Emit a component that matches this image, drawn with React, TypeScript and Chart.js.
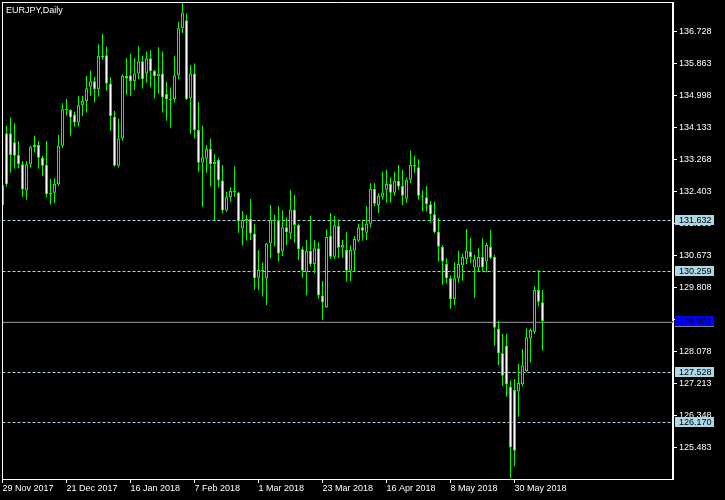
import React, { useEffect, useRef } from "react";
import { Chart, registerables } from "chart.js";

Chart.register(...registerables);

const symbolTitle = "EURJPY,Daily";

const opens = [
  132.04, 133.98, 133.98, 133.74, 133.39, 133.14, 132.43, 133.14, 133.61, 133.66,
  133.32, 133.12, 132.37, 132.37, 132.60, 133.64, 134.63, 134.61, 134.49, 134.27,
  134.74, 134.85, 135.24, 135.39, 135.17, 136.07, 136.09, 135.33, 134.43, 133.10,
  133.84, 135.53, 135.55, 135.39, 135.60, 135.93, 135.60, 136.01, 135.67, 135.53,
  135.60, 135.04, 134.90, 134.90, 135.55, 136.82, 137.04, 134.92, 135.60, 134.07,
  133.18, 133.30, 133.56, 133.14, 133.26, 132.70, 131.89, 132.25, 132.42, 132.38,
  131.41, 131.63, 131.67, 131.27, 130.07, 130.28, 130.06, 131.00, 131.63, 131.63,
  130.78, 131.44, 131.27, 131.92, 131.50, 130.84, 130.22, 130.80, 130.44, 130.87,
  129.59, 129.27, 131.21, 130.64, 131.47, 130.88, 130.82, 130.26, 130.80, 131.07,
  131.44, 131.29, 131.53, 132.47, 132.04, 132.26, 132.45, 132.61, 132.37, 132.69,
  132.55, 132.21, 132.72, 133.12, 133.06, 132.29, 132.25, 132.06, 131.79, 131.31,
  130.91, 130.44, 130.06, 129.49, 130.06, 130.40, 130.57, 130.78, 130.35, 130.35,
  130.63, 130.51, 130.91, 130.63, 128.70, 128.03, 128.23, 127.12, 127.03, 126.99,
  127.19, 127.55, 128.43, 128.61, 129.74, 129.41,
];
const highs = [
  132.63, 134.18, 134.41, 134.25, 133.77, 133.23, 133.23, 133.64, 133.91, 133.77,
  133.37, 133.77, 132.74, 132.76, 133.93, 134.79, 134.91, 134.63, 134.56, 134.99,
  134.99, 135.53, 135.67, 135.51, 136.39, 136.67, 136.32, 135.50, 134.58, 134.37,
  135.58, 136.01, 136.13, 136.01, 136.34, 136.07, 136.19, 136.23, 135.69, 136.31,
  136.19, 135.37, 135.22, 136.07, 136.99, 137.51, 137.23, 135.83, 135.87, 134.83,
  134.20, 133.66, 133.83, 133.42, 133.32, 133.12, 132.40, 132.52, 133.08, 132.40,
  131.88, 131.77, 132.20, 131.53, 130.82, 130.48, 131.02, 132.04, 131.77, 132.01,
  131.90, 131.71, 132.45, 132.31, 131.54, 130.91, 131.09, 131.74, 131.09, 131.03,
  129.98, 131.38, 131.82, 131.74, 131.65, 131.09, 131.31, 130.94, 131.20, 131.53,
  131.63, 132.01, 132.63, 132.63, 132.36, 132.94, 132.99, 132.79, 132.94, 133.12,
  132.99, 132.79, 133.51, 133.37, 133.28, 132.43, 132.55, 132.15, 132.13, 131.68,
  130.96, 130.60, 130.13, 130.49, 130.80, 130.71, 131.39, 131.15, 130.69, 130.87,
  131.14, 131.02, 131.36, 130.69, 128.91, 128.55, 128.55, 127.29, 127.33, 127.74,
  128.14, 128.70, 128.70, 129.85, 130.28, 129.74,
];
const lows = [
  131.98, 132.53, 132.91, 133.03, 133.03, 132.26, 132.18, 133.05, 133.46, 133.03,
  132.82, 132.25, 132.05, 132.09, 132.55, 133.59, 134.46, 133.91, 134.16, 134.16,
  134.45, 134.54, 134.99, 134.81, 134.97, 135.96, 135.13, 134.05, 133.08, 133.05,
  133.78, 135.02, 134.99, 135.15, 135.44, 135.19, 135.35, 135.22, 134.92, 135.05,
  134.54, 134.32, 134.13, 134.81, 135.44, 136.69, 134.88, 133.96, 133.84, 132.94,
  131.99, 132.91, 132.54, 131.62, 132.51, 131.82, 131.85, 132.13, 132.26, 131.29,
  130.94, 131.07, 131.09, 129.74, 129.74, 129.56, 129.33, 130.60, 130.91, 130.51,
  130.66, 130.96, 131.11, 131.02, 130.55, 130.07, 129.60, 130.37, 130.19, 129.50,
  128.93, 129.25, 130.58, 130.58, 130.61, 130.61, 129.96, 129.98, 130.24, 131.04,
  131.07, 131.09, 131.43, 132.01, 131.82, 132.18, 132.10, 132.10, 132.29, 132.45,
  132.04, 132.10, 132.63, 132.91, 132.18, 131.88, 131.86, 131.56, 131.27, 130.51,
  129.88, 129.92, 129.23, 129.33, 129.94, 129.99, 130.44, 130.46, 129.53, 130.24,
  130.24, 130.21, 130.57, 128.23, 127.71, 127.14, 126.85, 124.65, 124.96, 126.31,
  127.12, 127.53, 127.77, 128.55, 129.29, 128.10,
];
const closes = [
  132.58, 132.60, 133.39, 133.37, 133.14, 132.46, 133.14, 133.62, 133.66, 133.32,
  133.10, 132.34, 132.33, 132.61, 133.64, 134.63, 134.61, 134.41, 134.27, 134.74,
  134.85, 135.20, 135.39, 135.17, 136.07, 136.03, 135.33, 134.45, 133.10, 133.84,
  135.53, 135.46, 135.39, 135.60, 135.93, 135.44, 136.01, 135.66, 135.53, 135.60,
  134.95, 134.90, 134.88, 135.55, 136.82, 137.25, 134.90, 135.60, 134.07, 133.18,
  133.33, 133.56, 133.14, 133.20, 132.70, 131.89, 132.25, 132.42, 132.38, 131.59,
  131.63, 131.66, 131.27, 130.06, 130.28, 130.25, 131.00, 131.63, 131.62, 130.73,
  131.44, 131.30, 131.92, 131.50, 130.84, 130.26, 130.80, 130.44, 130.87, 129.59,
  129.41, 131.17, 130.64, 131.49, 130.88, 130.96, 130.26, 130.82, 131.12, 131.44,
  131.34, 131.53, 132.47, 132.07, 132.28, 132.38, 132.61, 132.37, 132.69, 132.54,
  132.29, 132.72, 133.12, 133.08, 132.29, 132.26, 132.06, 131.79, 131.31, 130.91,
  130.51, 130.06, 129.49, 130.06, 130.44, 130.63, 130.80, 130.63, 130.57, 130.63,
  130.35, 130.96, 130.61, 128.72, 128.03, 127.42, 127.19, 125.48, 125.39, 127.22,
  127.70, 128.46, 128.66, 129.74, 129.42, 128.90,
];

const xTickIndices = [0, 16, 32, 48, 64, 80, 96, 112, 128];
const xTickLabels = [
  "29 Nov 2017", "21 Dec 2017", "16 Jan 2018", "7 Feb 2018", "1 Mar 2018",
  "23 Mar 2018", "16 Apr 2018", "8 May 2018", "30 May 2018",
];
const yTickValues = [
  125.483, 126.348, 127.213, 128.078, 128.943, 129.808, 130.673,
  131.538, 132.403, 133.268, 134.133, 134.998, 135.863, 136.728,
];
const levelLines = [131.632, 130.259, 127.528, 126.17];
const currentPrice = 128.901;

const Y_MIN = 124.625;
const Y_MAX = 137.505;
const X_MIN = 0;
const X_MAX = 167.625;

const LIME = "#00ff00";
const WHITE = "#ffffff";
const BLACK = "#000000";
const LIGHT = "#add8e6";
const BLUE = "#0000ff";
const GRAY = "#808080";
const FONT = '"Liberation Sans", Arial, sans-serif';

const overlayPlugin = {
  id: "mtOverlay",
  beforeDraw(chart: any) {
    const { ctx, width, height } = chart;
    ctx.save();
    ctx.fillStyle = BLACK;
    ctx.fillRect(0, 0, width, height);
    ctx.restore();
  },
  beforeDatasetsDraw(chart: any) {
    const { ctx, chartArea: a, scales } = chart;
    const y = scales.y;
    ctx.save();
    ctx.beginPath();
    ctx.rect(a.left, a.top, a.right - a.left, a.bottom - a.top);
    ctx.clip();
    ctx.lineWidth = 1;
    ctx.setLineDash([3, 2]);
    ctx.strokeStyle = LIGHT;
    for (const v of levelLines) {
      const py = Math.round(y.getPixelForValue(v)) + 0.5;
      ctx.beginPath();
      ctx.moveTo(a.left, py);
      ctx.lineTo(a.right, py);
      ctx.stroke();
    }
    const cp = Math.round(y.getPixelForValue(currentPrice)) + 0.5;
    ctx.setLineDash([]);
    ctx.strokeStyle = GRAY;
    ctx.beginPath();
    ctx.moveTo(a.left, cp + 1);
    ctx.lineTo(a.right, cp + 1);
    ctx.stroke();
    ctx.strokeStyle = BLUE;
    ctx.beginPath();
    ctx.moveTo(a.left, cp);
    ctx.lineTo(a.right, cp);
    ctx.stroke();
    ctx.restore();
  },
  afterDraw(chart: any) {
    const { ctx, chartArea: a, scales } = chart;
    const y = scales.y;
    ctx.save();
    ctx.setLineDash([]);
    ctx.strokeStyle = WHITE;
    ctx.lineWidth = 1;
    ctx.beginPath();
    ctx.moveTo(2, 2.5);
    ctx.lineTo(a.right, 2.5);
    ctx.moveTo(2.5, 2);
    ctx.lineTo(2.5, a.bottom);
    ctx.stroke();

    ctx.font = `9px ${FONT}`;
    ctx.textAlign = "left";
    ctx.textBaseline = "alphabetic";
    ctx.fillStyle = WHITE;
    ctx.fillText(symbolTitle, 6, 13);

    ctx.textBaseline = "middle";
    const bx = a.right + 2;
    const bw = 39;
    for (const v of levelLines) {
      const py = Math.round(y.getPixelForValue(v));
      ctx.fillStyle = LIGHT;
      ctx.fillRect(bx, py - 5, bw, 10);
      ctx.fillStyle = BLACK;
      ctx.fillText(v.toFixed(3), bx + 4, py + 0.5);
    }
    const cp = Math.round(y.getPixelForValue(currentPrice));
    ctx.fillStyle = GRAY;
    ctx.fillRect(bx, cp - 4, bw, 10);
    ctx.fillStyle = BLUE;
    ctx.fillRect(bx, cp - 5, bw, 10);
    ctx.fillStyle = BLACK;
    ctx.fillText(currentPrice.toFixed(3), bx + 4, cp + 0.5);
    ctx.restore();
  },
};

export default function App() {
  const ref = useRef<HTMLCanvasElement>(null);

  useEffect(() => {
    document.body.style.margin = "0";
    document.body.style.background = BLACK;
    const canvas = ref.current;
    if (!canvas) return;

    const bodies = opens.map((o, i) => ({ x: i, y: [o, closes[i]] }));
    const wicks = lows.map((l, i) => ({ x: i, y: [l, highs[i]] }));
    const bodyFill = opens.map((o, i) => (closes[i] < o ? WHITE : BLACK));

    const tickGrid = {
      display: true,
      drawOnChartArea: false,
      drawTicks: true,
      tickLength: 4,
      tickColor: WHITE,
      tickWidth: 1,
      offset: false,
    };

    const chart = new Chart(canvas, {
      type: "bar",
      data: {
        datasets: [
          {
            data: bodies as any,
            backgroundColor: bodyFill,
            borderColor: LIME,
            borderWidth: 1,
            borderSkipped: false,
            barThickness: 3,
            grouped: false,
            minBarLength: 1,
            inflateAmount: 0,
            clip: 0,
          } as any,
          {
            data: wicks as any,
            backgroundColor: LIME,
            borderWidth: 0,
            barThickness: 1,
            grouped: false,
            inflateAmount: 0,
            clip: 0,
          } as any,
        ],
      },
      options: {
        responsive: true,
        maintainAspectRatio: false,
        animation: false,
        devicePixelRatio: 1,
        events: [],
        layout: { padding: { left: 2.5, top: 3, right: 0, bottom: 0 } },
        plugins: {
          legend: { display: false },
          tooltip: { enabled: false },
          title: { display: false },
        },
        scales: {
          x: {
            type: "linear",
            min: X_MIN,
            max: X_MAX,
            offset: false,
            grid: tickGrid as any,
            border: { display: true, color: WHITE, width: 1 },
            ticks: {
              color: WHITE,
              font: { family: FONT, size: 9 },
              padding: 0,
              align: "start",
              autoSkip: false,
              maxRotation: 0,
              minRotation: 0,
              callback: (v: any) => {
                const k = xTickIndices.indexOf(Number(v));
                return k >= 0 ? xTickLabels[k] : "";
              },
            },
            afterBuildTicks: (s: any) => {
              s.ticks = xTickIndices.map((v) => ({ value: v }));
            },
            afterFit: (s: any) => {
              s.height = 21;
              s.paddingLeft = 0;
              s.paddingRight = 0;
              s.paddingTop = 0;
              s.paddingBottom = 0;
            },
          } as any,
          y: {
            type: "linear",
            position: "right",
            min: Y_MIN,
            max: Y_MAX,
            grid: tickGrid as any,
            border: { display: true, color: WHITE, width: 2 },
            ticks: {
              color: WHITE,
              font: { family: FONT, size: 9 },
              padding: 2,
              autoSkip: false,
              callback: (v: any) => Number(v).toFixed(3),
            },
            afterBuildTicks: (s: any) => {
              s.ticks = yTickValues.map((v) => ({ value: v }));
            },
            afterFit: (s: any) => {
              s.width = 52;
              s.paddingTop = 0;
              s.paddingBottom = 0;
              s.paddingLeft = 0;
              s.paddingRight = 0;
            },
          } as any,
        },
      },
      plugins: [overlayPlugin as any],
    });

    return () => chart.destroy();
  }, []);

  return (
    <div style={{ width: 725, height: 500, position: "relative", background: BLACK }}>
      <canvas ref={ref} />
    </div>
  );
}
